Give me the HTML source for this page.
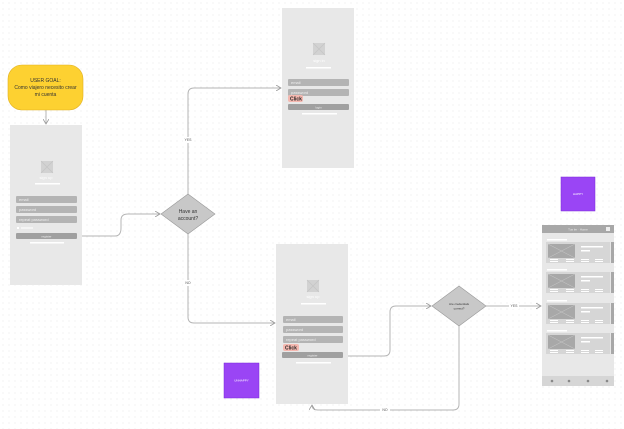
<!DOCTYPE html>
<html><head><meta charset="utf-8"><style>
html,body{margin:0;padding:0;}
body{width:624px;height:429px;overflow:hidden;background:#fff;
background-image:radial-gradient(#e6e6e6 0.6px,transparent 0.7px);background-size:6px 6px;}
svg{position:absolute;left:0;top:0;font-family:"Liberation Sans",sans-serif;}
</style></head><body>
<svg width="624" height="429" viewBox="0 0 624 429">
<defs>
<marker id="ar" markerWidth="6" markerHeight="6" refX="5" refY="3" orient="auto"><path d="M0,0 L5,3 L0,6" fill="none" stroke="#999" stroke-width="0.8"/></marker>
<g id="img"><rect width="12" height="12" fill="#d2d2d2"/><path d="M0,0L12,12M12,0L0,12" stroke="#c4c4c4" stroke-width="0.6"/></g>
</defs>
<g fill="none" stroke="#b5b5b5" stroke-width="1">
<path d="M46,110 V124" marker-end="url(#ar)"/>
<path d="M82,236 H115 Q121,236 121,228 V220 Q121,214 128,214 H160" marker-end="url(#ar)"/>
<path d="M188,194 V94 Q188,88 194,88 H281" marker-end="url(#ar)"/>
<path d="M188,234 V317 Q188,323 194,323 H275" marker-end="url(#ar)"/>
<path d="M348,356 H384 Q390,356 390,350 V312 Q390,306 396,306 H431" marker-end="url(#ar)"/>
<path d="M486,306 H541" marker-end="url(#ar)"/>
<path d="M459,326 V404 Q459,410 453,410 H318 Q312,410 312,405" marker-end="url(#ar)"/>
</g>
<g font-size="3.5" fill="#555" text-anchor="middle">
<rect x="183" y="137" width="10" height="6" fill="#fff"/><text x="188" y="141">YES</text>
<rect x="183" y="280" width="10" height="6" fill="#fff"/><text x="188" y="284">NO</text>
<rect x="509" y="303" width="10" height="6" fill="#fff"/><text x="514" y="307">YES</text>
<rect x="380" y="407" width="10" height="6" fill="#fff"/><text x="385" y="411">NO</text>
</g>
<rect x="8" y="65" width="75" height="45" rx="14" fill="#fdd131" stroke="#e0b020" stroke-width="0.6"/>
<g font-size="5" fill="#333" text-anchor="middle"><text x="45.5" y="82">USER GOAL:</text><text x="45.5" y="89">Como viajero necesito crear</text><text x="45.5" y="96">mi cuenta</text></g>
<rect x="10" y="125" width="72" height="160" fill="#e8e8e8"/>
<use href="#img" x="41" y="161"/>
<text x="46" y="179" font-size="4" fill="#fff" text-anchor="middle">sign up</text>
<rect x="35" y="183" width="25" height="1.5" fill="#fff"/>
<g fill="#b4b4b4"><rect x="16" y="196" width="61" height="7" rx="1"/><rect x="16" y="206" width="61" height="7" rx="1"/><rect x="16" y="216" width="61" height="7" rx="1"/><rect x="16" y="233" width="61" height="6" rx="1" fill="#a0a0a0"/></g>
<g font-size="4" fill="#eee"><text x="19" y="201">email</text><text x="19" y="211">password</text><text x="19" y="221">repeat password</text></g>
<text x="46.5" y="237.5" font-size="3" fill="#eee" text-anchor="middle">register</text>
<rect x="17" y="227" width="2" height="2" fill="#fff"/><rect x="21" y="227.5" width="12" height="1" fill="#fff"/>
<rect x="30" y="242" width="34" height="1.5" fill="#fff"/>
<path d="M188,194 L215,214 L188,234 L161,214Z" fill="#c8c8c8" stroke="#999" stroke-width="0.6"/>
<g font-size="5" fill="#333" text-anchor="middle"><text x="188" y="213">Have an</text><text x="188" y="220">account?</text></g>
<rect x="282" y="8" width="72" height="160" fill="#e8e8e8"/>
<use href="#img" x="313" y="43"/>
<text x="319" y="62" font-size="4" fill="#fff" text-anchor="middle">sign in</text>
<rect x="306" y="67" width="25" height="1.5" fill="#fff"/>
<rect x="288" y="79" width="61" height="7" rx="1" fill="#b4b4b4"/><rect x="288" y="89" width="61" height="7" rx="1" fill="#b4b4b4"/>
<rect x="288" y="104" width="61" height="6" rx="1" fill="#a0a0a0"/>
<g font-size="4" fill="#eee"><text x="291" y="84">email</text><text x="291" y="94">password</text></g>
<text x="318.5" y="108.5" font-size="3" fill="#eee" text-anchor="middle">login</text>
<rect x="288" y="95" width="15" height="7" rx="2" fill="#f5b8b0"/><text x="290" y="100.5" font-size="5" font-weight="bold" fill="#222">Click</text>
<rect x="302" y="113" width="35" height="1.5" fill="#fff"/>
<rect x="276" y="244" width="72" height="160" fill="#e8e8e8"/>
<use href="#img" x="307" y="280"/>
<text x="313" y="298" font-size="4" fill="#fff" text-anchor="middle">sign up</text>
<rect x="301" y="303" width="25" height="1.5" fill="#fff"/>
<g fill="#b4b4b4"><rect x="283" y="316" width="60" height="7" rx="1"/><rect x="283" y="326" width="60" height="7" rx="1"/><rect x="283" y="336" width="60" height="7" rx="1"/><rect x="282" y="352" width="61" height="6" rx="1" fill="#a0a0a0"/></g>
<g font-size="4" fill="#eee"><text x="286" y="321">email</text><text x="286" y="331">password</text><text x="286" y="341">repeat password</text></g>
<text x="312.5" y="356.5" font-size="3" fill="#eee" text-anchor="middle">register</text>
<rect x="283" y="344" width="16" height="7" rx="2" fill="#f5b8b0"/><text x="285" y="349.5" font-size="5" font-weight="bold" fill="#222">Click</text>
<rect x="296" y="362" width="35" height="1.5" fill="#fff"/>
<path d="M459,286 L486,306 L459,326 L432,306Z" fill="#c8c8c8" stroke="#999" stroke-width="0.6"/>
<g font-size="3" fill="#333" text-anchor="middle"><text x="459" y="305">Are credentials</text><text x="459" y="309.5">correct?</text></g>
<rect x="561" y="177" width="34" height="34" fill="#9a45f5" stroke="#7a2ad8" stroke-width="0.5"/>
<text x="578" y="195" font-size="3" fill="#fff" text-anchor="middle">HAPPY</text>
<rect x="224" y="363" width="35" height="35" fill="#9a45f5" stroke="#7a2ad8" stroke-width="0.5"/>
<text x="241.5" y="381.5" font-size="3" fill="#fff" text-anchor="middle">UNHAPPY</text>
<rect x="542" y="225" width="72" height="161" fill="#e8e8e8"/>
<rect x="542" y="225" width="72" height="8" fill="#a8a8a8"/>
<text x="578" y="230.5" font-size="3" fill="#eee" text-anchor="middle">Tus ler · Home</text>
<rect x="606" y="227" width="4" height="4" fill="#eee"/>
<g id="card">
<rect x="547" y="239" width="20" height="1.5" fill="#fff"/>
<rect x="546" y="242" width="64" height="21" fill="#d6d6d6"/>
<rect x="611" y="242" width="3" height="21" fill="#a8a8a8"/>
<rect x="548" y="244" width="27" height="14" fill="#a8a8a8"/>
<path d="M548,244L575,258M575,244L548,258" stroke="#c8c8c8" stroke-width="0.5"/>
<rect x="581" y="246" width="22" height="1.5" fill="#fff"/><rect x="581" y="250" width="9" height="1.5" fill="#fff"/>
<g fill="#fff"><rect x="550" y="259" width="8" height="1"/><rect x="566" y="259" width="8" height="1"/><rect x="581" y="259" width="8" height="1"/><rect x="595" y="259" width="8" height="1"/>
<rect x="550" y="261" width="8" height="1"/><rect x="566" y="261" width="8" height="1"/><rect x="581" y="261" width="8" height="1"/><rect x="595" y="261" width="8" height="1"/></g>
</g>
<use href="#card" y="30"/><use href="#card" y="61"/><use href="#card" y="91"/>
<rect x="542" y="376" width="72" height="10" fill="#d6d6d6"/>
<g fill="#888"><circle cx="552" cy="381" r="1.3"/><circle cx="569" cy="381" r="1.3"/><circle cx="588" cy="381" r="1.3"/><circle cx="607" cy="381" r="1.3"/></g>
</svg>
</body></html>
